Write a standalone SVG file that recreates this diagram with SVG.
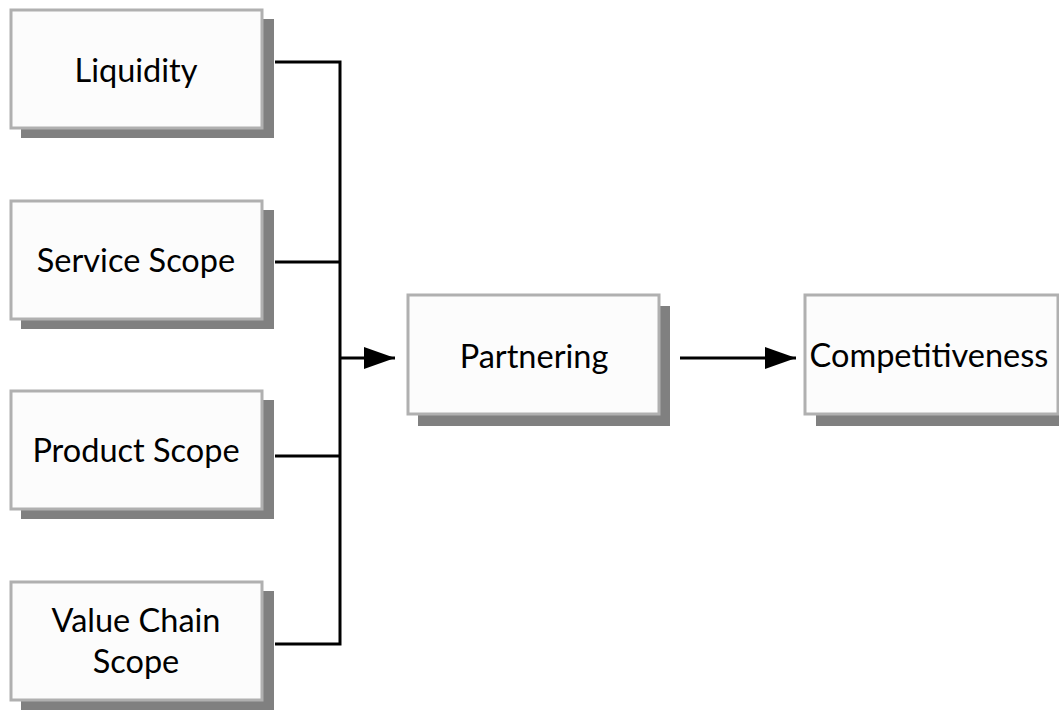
<svg xmlns="http://www.w3.org/2000/svg" width="1059" height="710" viewBox="0 0 1059 710">
  <defs>
    <style>
      .shadow { fill: #808080; }
      .box { fill: #fcfcfc; stroke: #b0b0b0; stroke-width: 3; }
      .label { font-family: Lato, "Liberation Sans", sans-serif; font-size: 32.5px; fill: #000; text-anchor: middle; }
      .wire { fill: none; stroke: #000; stroke-width: 3; }
    </style>
    <marker id="arrow" markerUnits="userSpaceOnUse" markerWidth="32" markerHeight="22" refX="31" refY="11" orient="auto">
      <path d="M0,0 L31,11 L0,22 Z" fill="#000"/>
    </marker>
  </defs>
  <rect width="1059" height="710" fill="#fff"/>

  <g id="liquidity">
    <rect class="shadow" x="21" y="19" width="253" height="119"/>
    <rect class="box" x="11" y="10" width="251" height="118"/>
    <text class="label" x="136" y="82">Liquidity</text>
  </g>

  <g id="service-scope">
    <rect class="shadow" x="21" y="210" width="253" height="119"/>
    <rect class="box" x="11" y="201" width="251" height="118"/>
    <text class="label" x="136" y="272">Service Scope</text>
  </g>

  <g id="product-scope">
    <rect class="shadow" x="21" y="400" width="253" height="119"/>
    <rect class="box" x="11" y="391" width="251" height="118"/>
    <text class="label" x="136" y="462">Product Scope</text>
  </g>

  <g id="value-chain-scope">
    <rect class="shadow" x="21" y="591" width="253" height="119"/>
    <rect class="box" x="11" y="582" width="251" height="118"/>
    <text class="label" x="136" y="632">Value Chain</text>
    <text class="label" x="136" y="673">Scope</text>
  </g>

  <g id="partnering">
    <rect class="shadow" x="418" y="306" width="252" height="120"/>
    <rect class="box" x="408" y="295" width="251" height="119"/>
    <text class="label" x="534" y="368">Partnering</text>
  </g>

  <g id="competitiveness">
    <rect class="shadow" x="816" y="306" width="253" height="120"/>
    <rect class="box" x="805" y="295" width="253" height="119"/>
    <text class="label" x="929" y="367">Competitiveness</text>
  </g>

  <g id="connectors">
    <path class="wire" d="M275,62 H340 V644 H275"/>
    <path class="wire" d="M275,262 H340"/>
    <path class="wire" d="M275,456 H340"/>
    <path class="wire" d="M340,358 H395" marker-end="url(#arrow)"/>
    <path class="wire" d="M680,358 H796" marker-end="url(#arrow)"/>
  </g>
</svg>
